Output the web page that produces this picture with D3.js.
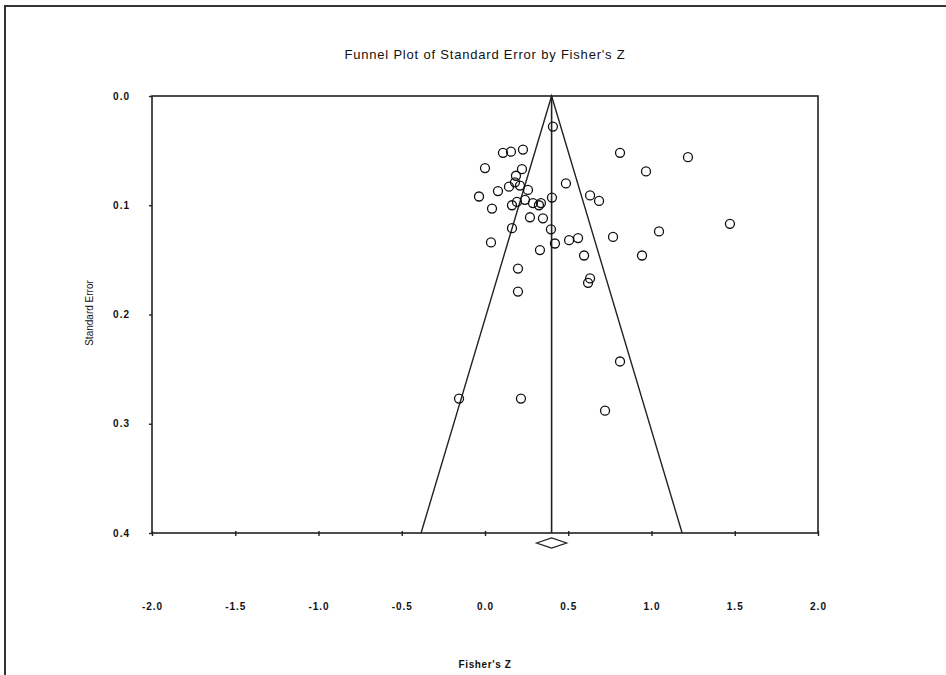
<!DOCTYPE html>
<html>
<head>
<meta charset="utf-8">
<script src="https://cdnjs.cloudflare.com/ajax/libs/d3/7.8.5/d3.min.js"></script>
<style>
    body { margin: 0; background: #fff; }
    svg text { fill: #111; }
</style>
</head>
<body>
<script>

// study effects (Fisher's Z, standard error)
var fisherZ = [0.408, 0.108, 0.156, 0.228, 0.000, 0.222, 0.186, 0.180, 0.210, 0.144,
    0.258, 0.078, -0.036, 0.486, 0.811, 1.219, 0.967, 0.631, 0.685, 1.471,
    1.045, 0.769, 0.505, 0.559, 0.595, 0.943, 0.631, 0.619, 0.162, 0.192,
    0.240, 0.288, 0.324, 0.336, 0.042, 0.270, 0.348, 0.402, 0.162, 0.396,
    0.420, 0.036, 0.330, 0.198, 0.198, 0.811, -0.156, 0.216, 0.721];
var stdErr = [0.028, 0.052, 0.051, 0.049, 0.066, 0.067, 0.073, 0.079, 0.082, 0.083,
    0.086, 0.087, 0.092, 0.080, 0.052, 0.056, 0.069, 0.091, 0.096, 0.117,
    0.124, 0.129, 0.132, 0.130, 0.146, 0.146, 0.167, 0.171, 0.100, 0.097,
    0.095, 0.098, 0.100, 0.098, 0.103, 0.111, 0.112, 0.093, 0.121, 0.122,
    0.135, 0.134, 0.141, 0.158, 0.179, 0.243, 0.277, 0.277, 0.288];

// summary effect and its confidence interval (the diamond)
var summaryZ = 0.40;
var summaryLow = 0.31;
var summaryHigh = 0.49;

var xTicks = [-2.0, -1.5, -1.0, -0.5, 0.0, 0.5, 1.0, 1.5, 2.0];
var yTicks = [0.0, 0.1, 0.2, 0.3, 0.4];

var svg = d3.select("body").append("svg")
    .attr("width", 946)
    .attr("height", 675);

// outer frame of the figure
svg.append("path")
    .attr("d", "M5,675 V6 H946")
    .attr("fill", "none")
    .attr("stroke", "#333")
    .attr("stroke-width", 2);

var xScale = d3.scaleLinear()
    .domain([-2, 2])
    .range([152, 818]);

var yScale = d3.scaleLinear()
    .domain([0, 0.4])
    .range([96, 533]);

var fmt = function (d) { return d.toFixed(1); };

// plot box
svg.append("rect")
    .attr("x", xScale(-2))
    .attr("y", yScale(0))
    .attr("width", xScale(2) - xScale(-2))
    .attr("height", yScale(0.4) - yScale(0))
    .attr("fill", "none")
    .attr("stroke", "#222")
    .attr("stroke-width", 1.6);

var xAxis = d3.axisBottom(xScale)
    .tickValues(xTicks)
    .tickSize(3)
    .tickPadding(67)
    .tickFormat(fmt);

var xAxisGroup = svg.append("g")
    .attr("transform", "translate(0," + yScale(0.4) + ")")
    .call(xAxis);
xAxisGroup.select(".domain").remove();
xAxisGroup.selectAll(".tick line").attr("y1", -2).attr("stroke", "#222").attr("stroke-width", 1.4);

var yAxis = d3.axisLeft(yScale)
    .tickValues(yTicks)
    .tickSize(3)
    .tickPadding(19)
    .tickFormat(fmt);

var yAxisGroup = svg.append("g")
    .attr("transform", "translate(" + xScale(-2) + ",0)")
    .call(yAxis);
yAxisGroup.select(".domain").remove();
yAxisGroup.selectAll(".tick line").attr("stroke", "#222").attr("stroke-width", 1.4);

svg.selectAll(".tick text")
    .style("font-family", "Liberation Sans Narrow, Liberation Sans, Arial")
    .style("font-size", "10px")
    .style("font-weight", "bold")
    .style("letter-spacing", "1px");

// funnel (95% pseudo confidence limits)
var funnel = [
    [summaryZ - 1.96 * 0.4, 0.4],
    [summaryZ, 0],
    [summaryZ + 1.96 * 0.4, 0.4]
];

svg.append("path")
    .datum(funnel)
    .attr("d", d3.line()
        .x(function (d) { return xScale(d[0]); })
        .y(function (d) { return yScale(d[1]); }))
    .attr("fill", "none")
    .attr("stroke", "#222")
    .attr("stroke-width", 1.4);

svg.append("line")
    .attr("x1", xScale(summaryZ))
    .attr("x2", xScale(summaryZ))
    .attr("y1", yScale(0))
    .attr("y2", yScale(0.4))
    .attr("stroke", "#222")
    .attr("stroke-width", 1.6);

// diamond below the axis
var dy = yScale(0.4) + 10;
svg.append("path")
    .attr("d", "M" + xScale(summaryLow) + "," + dy +
        " L" + xScale(summaryZ) + "," + (dy - 5) +
        " L" + xScale(summaryHigh) + "," + dy +
        " L" + xScale(summaryZ) + "," + (dy + 5) + " Z")
    .attr("fill", "#fff")
    .attr("stroke", "#222")
    .attr("stroke-width", 1.3);

var points = fisherZ.map(function (z, i) {
    return {z: z, se: stdErr[i]};
});

svg.selectAll("circle.study")
    .data(points)
    .enter()
    .append("circle")
    .attr("class", "study")
    .attr("cx", function (d) { return xScale(d.z); })
    .attr("cy", function (d) { return yScale(d.se); })
    .attr("r", 4.5)
    .attr("fill", "none")
    .attr("stroke", "#111")
    .attr("stroke-width", 1.3);

// titles
svg.append("text")
    .attr("x", 485)
    .attr("y", 59)
    .attr("text-anchor", "middle")
    .style("font-family", "Liberation Sans, Arial")
    .style("font-size", "13px")
    .style("letter-spacing", "0.8px")
    .text("Funnel Plot of Standard Error by Fisher's Z");

svg.append("text")
    .attr("transform", "translate(93,313) rotate(-90)")
    .attr("text-anchor", "middle")
    .style("font-family", "Liberation Sans Narrow, Liberation Sans, Arial")
    .style("font-size", "10px")
    .text("Standard Error");

svg.append("text")
    .attr("x", 485)
    .attr("y", 668)
    .attr("text-anchor", "middle")
    .style("font-family", "Liberation Sans Narrow, Liberation Sans, Arial")
    .style("font-size", "10px")
    .style("font-weight", "bold")
    .style("letter-spacing", "0.6px")
    .text("Fisher's Z");

</script>
</body>
</html>
